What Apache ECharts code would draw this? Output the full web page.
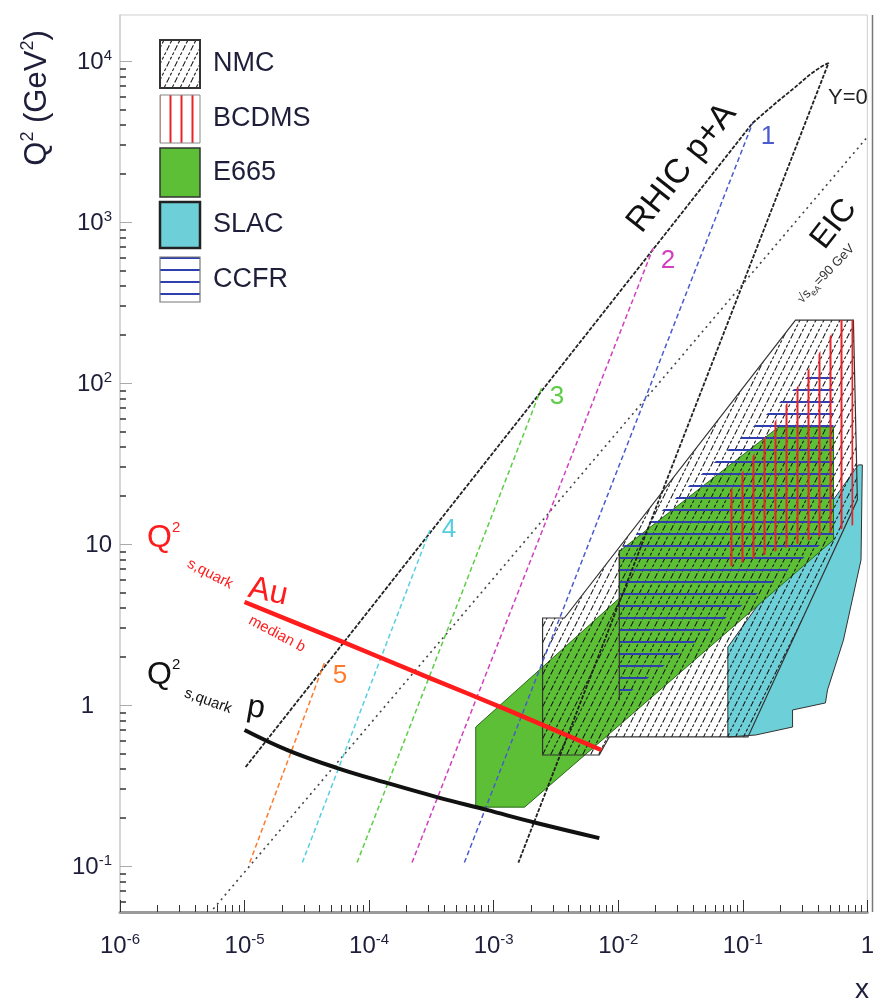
<!DOCTYPE html>
<html><head><meta charset="utf-8">
<script src="https://cdn.jsdelivr.net/npm/echarts@6/dist/echarts.min.js"></script>
<style>html,body{margin:0;padding:0;background:#fff}#c{width:877px;height:1004px}</style>
</head><body><div id="c"></div>
<script>
// ===================== DATA (x, Q^2 in GeV^2) =====================
const xTickExps = [-6, -5, -4, -3, -2, -1, 0];
const yTickExps = [-1, 0, 1, 2, 3, 4];
const xRange = [1e-6, 1];
const q2Range = [0.0518, 19300];

// RHIC p+A kinematic envelope (upper edge, top turn, then Y=0 line down)
const rhicX  = [1.02e-5, 0.120, 0.184, 0.265, 0.350, 0.436, 0.488, 1.58e-3];
const rhicQ2 = [0.412, 4120, 5480, 6900, 8300, 9310, 9720, 0.105];

// EIC sqrt(s)=90 GeV line
const eicX  = [5.6e-6, 1.0];
const eicQ2 = [0.054, 3370];

// rapidity lines 1..5
const rapNames    = ['1', '2', '3', '4', '5'];
const rapBottomX  = [5.82e-4, 2.21e-4, 8.0e-5, 2.91e-5, 1.1e-5];
const rapBottomQ2 = [0.105, 0.105, 0.105, 0.105, 0.105];
const rapTopX     = [0.120, 0.0191, 2.42e-3, 3.08e-4, 4.37e-5];
const rapTopQ2    = [4120, 690, 93, 12.2, 1.82];

// saturation scales
const qsProtonX  = [1.0e-5, 2.21e-5, 5.55e-5, 1.39e-4, 3.5e-4, 8.8e-4, 2.21e-3, 7.05e-3];
const qsProtonQ2 = [0.70, 0.525, 0.406, 0.328, 0.268, 0.223, 0.185, 0.149];
const qsAuX  = [1.0e-5, 5.86e-5, 3.08e-4, 1.3e-3, 7.31e-3];
const qsAuQ2 = [4.36, 2.50, 1.47, 0.93, 0.525];

// fixed-target data regions
const nmcX  = [2.47e-3, 3.70e-3, 0.265, 0.773, 0.832, 0.110, 8.47e-3, 7.05e-3, 2.47e-3];
const nmcQ2 = [3.47, 3.47, 246, 246, 18.8, 0.633, 0.633, 0.489, 0.489];
const e665X  = [7.18e-4, 7.18e-4, 1.77e-3, 0.535, 0.535, 0.194, 0.0102, 0.0102];
const e665Q2 = [0.730, 0.232, 0.232, 10.6, 53.3, 53.3, 9.0, 4.6];
const ccfrX  = [0.0102, 0.363, 0.535, 0.535, 0.0102];
const ccfrQ2 = [9.18, 117, 117, 11.4, 1.07];
const bcdmsX  = [0.0773, 0.0773, 0.608, 0.773, 0.773];
const bcdmsQ2 = [7.2, 20.7, 246, 246, 13.1];
const slacX  = [0.0759, 0.847, 0.912, 0.89, 0.643, 0.555, 0.479, 0.461, 0.251, 0.251, 0.127, 0.0759];
const slacQ2 = [2.29, 31.0, 31.0, 7.96, 2.53, 1.77, 1.24, 1.03, 0.931, 0.730, 0.651, 0.633];

const legendNames = ['NMC', 'BCDMS', 'E665', 'SLAC', 'CCFR'];

// ===================== STYLES =====================
const FONT = '"Liberation Sans",Arial,sans-serif';
const TXT = '#1e1e3a';
const GREEN = '#5cbf35', CYAN = '#6dcfd8';
const rapColors = ['#4a5bd0', '#d23fbf', '#5ccd44', '#55cfe0', '#ff7a2a'];

function makeCanvas(w, h, draw) {
  const c = document.createElement('canvas'); c.width = w; c.height = h;
  draw(c.getContext('2d'), w, h); return c;
}
const nmcPat = makeCanvas(8, 16, (g, w, h) => {
  g.strokeStyle = '#1a1a1a'; g.lineWidth = 1.1; g.setLineDash([3, 2]);
  g.beginPath(); g.moveTo(0, h); g.lineTo(w, 0); g.moveTo(-w, h); g.lineTo(0, 0); g.moveTo(w, h); g.lineTo(2 * w, 0); g.stroke();
});
const ccfrPat = makeCanvas(8, 12, (g, w, h) => {
  g.strokeStyle = '#2f3fae'; g.lineWidth = 2; g.beginPath(); g.moveTo(0, 6); g.lineTo(w, 6); g.stroke();
});
const bcdmsPat = makeCanvas(11, 8, (g, w, h) => {
  g.strokeStyle = '#e8232a'; g.lineWidth = 2; g.beginPath(); g.moveTo(5.5, 0); g.lineTo(5.5, h); g.stroke();
});
const pat = c => ({ image: c, repeat: 'repeat' });

const L = Math.log10;
const pts = (xs, qs) => xs.map((x, i) => [L(x), L(qs[i])]);

function polySeries(xs, qs, style, z) {
  return {
    type: 'custom', coordinateSystem: 'cartesian2d', z, silent: true, clip: true,
    data: [[-3, 0]],
    renderItem: (params, api) => ({
      type: 'polygon',
      shape: { points: xs.map((x, i) => api.coord([L(x), L(qs[i])])) },
      style
    })
  };
}
function lineSeries(data, color, width, dash, z, smooth) {
  return {
    type: 'line', data, showSymbol: false, symbol: 'none', z, silent: true, clip: true,
    smooth: smooth || false,
    lineStyle: { color, width, type: dash }, animation: false
  };
}

const minorVals = (lo, hi) => {
  const out = [];
  for (let d = lo; d <= hi; d++) for (let k = 2; k <= 9; k++) out.push(d + L(k));
  return out;
};
const yMin = L(q2Range[0]), yMax = L(q2Range[1]);
const xMinor = minorVals(-6, -1);
const yMinor = minorVals(-2, 4).filter(v => v > yMin && v < yMax);

const rich = {
  b: { fontSize: 24, fontFamily: FONT, color: TXT, lineHeight: 26, verticalAlign: 'bottom' },
  s: { fontSize: 15, fontFamily: FONT, color: TXT, lineHeight: 26, verticalAlign: 'top' },
  one: { fontSize: 24, fontFamily: FONT, color: TXT, lineHeight: 26, verticalAlign: 'bottom' },
  oneY: { fontSize: 24, fontFamily: FONT, color: TXT, lineHeight: 26, verticalAlign: 'bottom', padding: [0, 18, 0, 0] }
};
const fmt = (isY) => (v) => {
  const e = Math.round(v);
  if (e === 0) return isY ? '{oneY|1}' : '{one|1}';
  if (e === 1) return '{b|10}';
  return '{b|10}{s|' + e + '}';
};

const series = [
  polySeries(slacX, slacQ2, { fill: CYAN, stroke: '#333', lineWidth: 1 }, 2),
  polySeries(e665X, e665Q2, { fill: GREEN, stroke: '#2d6b1c', lineWidth: 1 }, 3),
  polySeries(nmcX, nmcQ2, { fill: pat(nmcPat), stroke: '#333', lineWidth: 1.2 }, 4),
  polySeries(ccfrX, ccfrQ2, { fill: pat(ccfrPat), stroke: null }, 5),
  polySeries(bcdmsX, bcdmsQ2, { fill: pat(bcdmsPat), stroke: null }, 6),
  lineSeries([[L(ccfrX[0]), L(ccfrQ2[0])], [L(ccfrX[4]), L(ccfrQ2[4])]], '#333', 1.2, 'solid', 6),
  lineSeries(pts(rhicX, rhicQ2), '#222', 1.8, [4, 1.5], 7),
  lineSeries(pts(eicX, eicQ2), '#444', 1.6, [2, 4], 7)
];
rapNames.forEach((n, i) => {
  series.push(lineSeries([[L(rapBottomX[i]), L(rapBottomQ2[i])], [L(rapTopX[i]), L(rapTopQ2[i])]], rapColors[i], 1.5, [5, 3], 7));
});
series.push(lineSeries(pts(qsProtonX, qsProtonQ2), '#111', 4, 'solid', 8, 0.4));
series.push(lineSeries(pts(qsAuX, qsAuQ2), '#ff1c1c', 4.5, 'solid', 8, 0.2));

// ---------- annotations ----------
const T = (x, y, text, size, color, opts = {}) => Object.assign({
  type: 'text', x, y, silent: true, z: 20,
  style: Object.assign({ text, fill: color, font: size + 'px ' + FONT, align: 'center', verticalAlign: 'middle' }, opts.style || {})
}, opts.el || {});
const deg = d => d * Math.PI / 180;

const graphics = [
  { type: 'line', shape: { x1: 872.5, y1: 15, x2: 872.5, y2: 912 }, style: { stroke: '#777', lineWidth: 1.5 }, z: 15, silent: true },
  // y axis title
  { type: 'text', x: 36, y: 98, rotation: deg(90), silent: true, z: 20,
    style: { text: '{q|Q}{s|2}{q| (GeV}{s|2}{q|)}', align: 'center', verticalAlign: 'middle',
      rich: { q: { fontSize: 31, fontFamily: FONT, fill: TXT, lineHeight: 34, verticalAlign: 'bottom' },
              s: { fontSize: 18, fontFamily: FONT, fill: TXT, lineHeight: 34, verticalAlign: 'top' } } } },
  T(862, 990, 'x', 28, TXT),
  // rapidity labels
  T(768, 137, '1', 26, rapColors[0]),
  T(668, 261, '2', 26, rapColors[1]),
  T(557, 397, '3', 26, rapColors[2]),
  T(449, 530, '4', 26, rapColors[3]),
  T(340, 676, '5', 26, rapColors[4]),
  T(828, 98, 'Y=0', 22, '#222', { style: { align: 'left' } }),
  T(682, 168, 'RHIC p+A', 34, '#111', { el: { rotation: deg(51.6) } }),
  T(834, 224, 'EIC', 32, '#111', { el: { rotation: deg(52) } }),
  { type: 'text', x: 826, y: 274, rotation: deg(46), silent: true, z: 20,
    style: { text: '{a|√s}{b|eA}{a|=90 GeV}', align: 'center', verticalAlign: 'middle',
      rich: { a: { fontSize: 13, fontFamily: FONT, fill: '#333' }, b: { fontSize: 9, fontFamily: FONT, fill: '#333', verticalAlign: 'bottom', lineHeight: 18 } } } },
  // Qs Au label
  { type: 'text', x: 147, y: 537, silent: true, z: 20,
    style: { text: '{q|Q}{s|2}', align: 'left', verticalAlign: 'middle',
      rich: { q: { fontSize: 32, fontFamily: FONT, fill: '#ff1c1c', lineHeight: 34, verticalAlign: 'bottom' },
              s: { fontSize: 15, fontFamily: FONT, fill: '#ff1c1c', lineHeight: 34, verticalAlign: 'top' } } } },
  T(210, 574, 's,quark', 15, '#ff1c1c', { el: { rotation: deg(-27) } }),
  T(268, 592, 'Au', 32, '#ff1c1c', { el: { rotation: deg(-12) } }),
  T(277, 634, 'median b', 15, '#ff1c1c', { el: { rotation: deg(-28) } }),
  // Qs p label
  { type: 'text', x: 147, y: 674, silent: true, z: 20,
    style: { text: '{q|Q}{s|2}', align: 'left', verticalAlign: 'middle',
      rich: { q: { fontSize: 32, fontFamily: FONT, fill: '#111', lineHeight: 34, verticalAlign: 'bottom' },
              s: { fontSize: 15, fontFamily: FONT, fill: '#111', lineHeight: 34, verticalAlign: 'top' } } } },
  T(208, 701, 's,quark', 15, '#111', { el: { rotation: deg(-20) } }),
  T(256, 708, 'p', 32, '#111', { el: { rotation: deg(-10) } })
];

// legend
const legendY = [40, 95, 148, 202, 257];
const legendH = [48, 48, 49, 46, 45];
const legendFill = [pat(nmcPat), pat(bcdmsPat), GREEN, CYAN, pat(ccfrPat)];
const legendStroke = ['#333', '#888', '#333', '#222', '#777'];
const legendSW = [2, 1, 1.5, 2.5, 1.2];
legendNames.forEach((n, i) => {
  graphics.push({ type: 'rect', shape: { x: 160, y: legendY[i], width: 40, height: legendH[i] },
    style: { fill: '#fff', stroke: 'none' }, z: 18, silent: true });
  graphics.push({ type: 'rect', shape: { x: 160, y: legendY[i], width: 40, height: legendH[i] },
    style: { fill: legendFill[i], stroke: legendStroke[i], lineWidth: legendSW[i] }, z: 19, silent: true });
  graphics.push(T(213, legendY[i] + legendH[i] / 2, n, 27, TXT, { style: { align: 'left' } }));
});

const chart = echarts.init(document.getElementById('c'), null, { renderer: 'canvas' });
chart.setOption({
  animation: false,
  backgroundColor: '#fff',
  grid: { left: 120, right: 5, top: 15, bottom: 92, show: true, borderColor: '#cfcfcf', borderWidth: 1 },
  xAxis: [
    { type: 'value', min: L(xRange[0]), max: L(xRange[1]), interval: 1, position: 'bottom',
      axisLine: { show: true, onZero: false, lineStyle: { color: '#9a9a9a', width: 3 } },
      axisTick: { show: true, inside: true, length: 12, customValues: xTickExps, lineStyle: { color: '#333', width: 1 } },
      axisLabel: { customValues: xTickExps, formatter: fmt(false), rich, margin: 20 },
      splitLine: { show: false } },
    { type: 'value', min: L(xRange[0]), max: L(xRange[1]), position: 'bottom', offset: 0,
      axisLine: { show: false, onZero: false }, axisLabel: { show: false }, splitLine: { show: false },
      axisTick: { show: true, inside: true, length: 7, customValues: xMinor, lineStyle: { color: '#333', width: 1 } } }
  ],
  yAxis: [
    { type: 'value', min: yMin, max: yMax, position: 'left',
      axisLine: { show: true, onZero: false, lineStyle: { color: '#cfcfcf', width: 1.5 } },
      axisTick: { show: true, inside: true, length: 12, customValues: yTickExps, lineStyle: { color: '#aaa', width: 1 } },
      axisLabel: { customValues: yTickExps, formatter: fmt(true), rich, margin: 8 },
      splitLine: { show: false } },
    { type: 'value', min: yMin, max: yMax, position: 'left', offset: 0,
      axisLine: { show: false, onZero: false }, axisLabel: { show: false }, splitLine: { show: false },
      axisTick: { show: true, inside: true, length: 6, customValues: yMinor, lineStyle: { color: '#333', width: 1.5 } } }
  ],
  series,
  graphic: graphics
});
</script></body></html>
